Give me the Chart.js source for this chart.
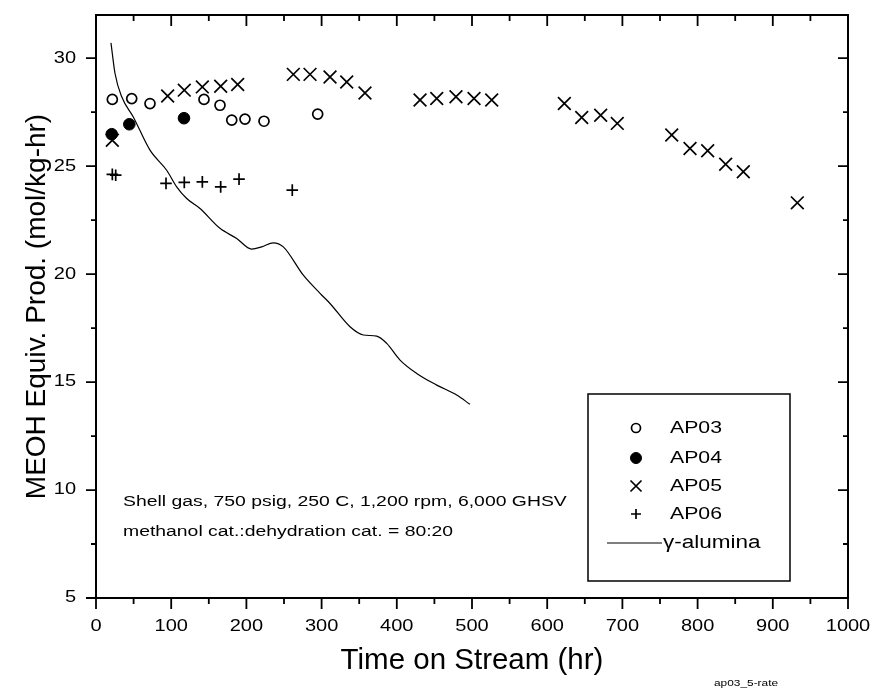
<!DOCTYPE html>
<html><head><meta charset="utf-8">
<script src="https://cdn.jsdelivr.net/npm/chart.js@4/dist/chart.umd.min.js"></script>
<style>html,body{margin:0;padding:0;background:#fff}canvas{display:block}</style>
</head><body>
<canvas id="c" width="875" height="689"></canvas>
<script>
// ---- data ----
const ap03X = [21.7, 47.5, 71.8, 143.6, 164.9, 180.5, 198.1, 223.4, 294.8];
const ap03Y = [28.09, 28.13, 27.90, 28.09, 27.82, 27.13, 27.18, 27.08, 27.41];
const ap04X = [20.9, 44.3, 117.0];
const ap04Y = [26.48, 26.94, 27.22];
const ap05X = [21.7, 95.3, 117.4, 141.4, 165.8, 188.4, 262.4, 284.6, 311.2, 333.4, 357.7, 430.9, 453.1, 478.7, 502.7, 526.2, 622.8, 645.9, 671.1, 693.2, 765.6, 789.9, 813.4, 837.3, 860.8, 932.6];
const ap05Y = [26.20, 28.25, 28.52, 28.67, 28.70, 28.78, 29.25, 29.25, 29.13, 28.90, 28.39, 28.06, 28.13, 28.21, 28.13, 28.06, 27.90, 27.25, 27.36, 26.98, 26.44, 25.82, 25.71, 25.09, 24.74, 23.30];
const ap06X = [21.7, 26.2, 93.1, 117.4, 141.4, 165.8, 190.2, 261.0];
const ap06Y = [24.62, 24.58, 24.20, 24.25, 24.27, 24.04, 24.40, 23.89];
const gammaX = [19.9, 25.3, 34.2, 49.6, 71.8, 94.0, 107.3, 120.6, 138.3, 164.9, 187.1, 207.0, 220.3, 235.8, 249.1, 275.7, 297.9, 311.2, 337.8, 355.5, 373.3, 386.6, 404.3, 426.5, 453.1, 479.7, 497.3];
const gammaY = [30.71, 29.29, 28.21, 27.28, 25.74, 24.81, 24.04, 23.50, 23.04, 22.12, 21.65, 21.16, 21.26, 21.45, 21.26, 19.95, 19.11, 18.64, 17.56, 17.18, 17.13, 16.79, 16.02, 15.40, 14.86, 14.40, 13.97];

const xMajorTicks = [0, 100, 200, 300, 400, 500, 600, 700, 800, 900, 1000];
const xMinorTicks = [50, 150, 250, 350, 450, 550, 650, 750, 850, 950];
const yMajorTicks = [5, 10, 15, 20, 25, 30];
const yMinorTicks = [7.5, 12.5, 17.5, 22.5, 27.5];
const seriesNames = ['AP03', 'AP04', 'AP05', 'AP06', 'γ-alumina'];
const noteLines = ['Shell gas, 750 psig, 250 C, 1,200 rpm, 6,000 GHSV', 'methanol cat.:dehydration cat. = 80:20'];
const xTitle = 'Time on Stream (hr)';
const yTitle = 'MEOH Equiv. Prod. (mol/kg-hr)';
const fileTag = 'ap03_5-rate';

const pts = (xs, ys) => xs.map((x, i) => ({x: x, y: ys[i]}));

// ---- small text is drawn horizontally widened, like the reference ----
const canvas = document.getElementById('c');
const ctx = canvas.getContext('2d');
const SX = 1.25;
const protoFill = CanvasRenderingContext2D.prototype.fillText;
ctx.fillText = function (text, x, y, maxWidth) {
  const mm = /([\d.]+)px/.exec(this.font);
  const size = mm ? parseFloat(mm[1]) : 12;
  const m = this.getTransform();
  const wide = size < 20 && Math.abs(m.b) < 1e-6;
  if (!wide) {
    if (maxWidth === undefined) return protoFill.call(this, text, x, y);
    return protoFill.call(this, text, x, y, maxWidth);
  }
  const p = m.transformPoint(new DOMPoint(x, y));
  const t = new DOMMatrix().translate(p.x, p.y).scale(SX, 1).translate(-p.x, -p.y).multiply(m);
  this.save();
  this.setTransform(t);
  if (maxWidth === undefined) protoFill.call(this, text, x, y);
  else protoFill.call(this, text, x, y, maxWidth);
  this.restore();
};

const FONT = "'Liberation Sans', Arial, sans-serif";
Chart.defaults.font.family = FONT;
Chart.defaults.color = '#000';

const markerStyles = [
  {pointStyle: 'circle', radius: 5, borderWidth: 1.7, fill: false},
  {pointStyle: 'circle', radius: 5.8, borderWidth: 1, fill: true},
  {pointStyle: 'crossRot', radius: 9, borderWidth: 1.7, fill: false},
  {pointStyle: 'cross', radius: 5.8, borderWidth: 1.7, fill: false}
];

function scatterSet(label, data, st) {
  return {
    label: label, data: data, showLine: false,
    pointStyle: st.pointStyle, pointRadius: st.radius, pointHoverRadius: st.radius,
    pointBorderWidth: st.borderWidth, borderColor: '#000',
    pointBorderColor: '#000', pointBackgroundColor: st.fill ? '#000' : 'rgba(0,0,0,0)',
    backgroundColor: st.fill ? '#000' : 'rgba(0,0,0,0)'
  };
}

function zeroPad(s) { s.paddingTop = 0; s.paddingBottom = 0; s.paddingLeft = 0; s.paddingRight = 0; }

const decor = {
  id: 'decor',
  afterDraw(chart) {
    const c = chart.ctx, a = chart.chartArea, xs = chart.scales.x, ys = chart.scales.y;
    c.save();
    c.strokeStyle = '#000';
    c.lineWidth = 2;
    c.strokeRect(a.left, a.top, a.right - a.left, a.bottom - a.top);
    c.lineWidth = 1.8;
    c.beginPath();
    const xt = (v, len) => { const px = xs.getPixelForValue(v);
      c.moveTo(px, a.bottom); c.lineTo(px, a.bottom + len);
      c.moveTo(px, a.top); c.lineTo(px, a.top + len); };
    const yt = (v, len) => { const py = ys.getPixelForValue(v);
      c.moveTo(a.left, py); c.lineTo(a.left - len, py);
      c.moveTo(a.right, py); c.lineTo(a.right - len, py); };
    xMajorTicks.forEach(v => xt(v, 11));
    xMinorTicks.forEach(v => xt(v, 6));
    yMajorTicks.forEach(v => yt(v, 10));
    yMinorTicks.forEach(v => yt(v, 5));
    c.stroke();

    // legend
    const bx = 588, by = 394, bw = 202, bh = 187;
    c.lineWidth = 1.5;
    c.strokeRect(bx, by, bw, bh);
    const rows = [428, 458, 486, 514, 543];
    const mx = 636, tx = 670;
    c.font = '17px ' + FONT;
    c.textBaseline = 'middle';
    c.textAlign = 'left';
    c.fillStyle = '#000';
    const legendSizes = [4.5, 5.5, 7.8, 5];
    for (let i = 0; i < 4; i++) {
      const st = markerStyles[i];
      c.save();
      c.strokeStyle = '#000';
      c.fillStyle = st.fill ? '#000' : 'rgba(0,0,0,0)';
      c.lineWidth = st.borderWidth;
      Chart.helpers.drawPoint(c, {pointStyle: st.pointStyle, radius: legendSizes[i], rotation: 0, borderWidth: st.borderWidth}, mx, rows[i]);
      c.restore();
      c.fillText(seriesNames[i], tx, rows[i]);
    }
    c.lineWidth = 1.2;
    c.beginPath();
    c.moveTo(607, rows[4]); c.lineTo(662, rows[4]);
    c.stroke();
    c.font = '18px ' + FONT;
    c.fillText(seriesNames[4], 663, rows[4]);

    // notes
    c.font = '15.5px ' + FONT;
    c.fillText(noteLines[0], 123, 502);
    c.fillText(noteLines[1], 123, 532);

    // file tag
    c.font = '9.5px ' + FONT;
    c.fillText(fileTag, 714, 683);
    c.restore();
  }
};

new Chart(ctx, {
  type: 'scatter',
  data: {
    datasets: [
      scatterSet(seriesNames[0], pts(ap03X, ap03Y), markerStyles[0]),
      scatterSet(seriesNames[1], pts(ap04X, ap04Y), markerStyles[1]),
      scatterSet(seriesNames[2], pts(ap05X, ap05Y), markerStyles[2]),
      scatterSet(seriesNames[3], pts(ap06X, ap06Y), markerStyles[3]),
      {
        label: seriesNames[4], data: pts(gammaX, gammaY), showLine: true,
        borderColor: '#000', borderWidth: 1.2, pointRadius: 0, pointHoverRadius: 0,
        cubicInterpolationMode: 'monotone', fill: false
      }
    ]
  },
  options: {
    responsive: false,
    animation: false,
    devicePixelRatio: 1,
    layout: {padding: {top: 15, right: 27, left: 0, bottom: 0}},
    plugins: {legend: {display: false}, tooltip: {enabled: false}},
    scales: {
      x: {
        type: 'linear', min: 0, max: 1000,
        afterFit(s) { s.height = 91; zeroPad(s); },
        afterBuildTicks(s) { s.ticks = xMajorTicks.map(v => ({value: v})); },
        grid: {display: false, drawTicks: false},
        border: {display: false},
        ticks: {autoSkip: false, maxRotation: 0, padding: 19, font: {size: 16}, color: '#000',
                callback: v => String(v)},
        title: {display: true, text: xTitle, font: {size: 29.5}, color: '#000', padding: {top: 0, bottom: 10}}
      },
      y: {
        type: 'linear', min: 5, max: 32,
        afterFit(s) { s.width = 96; zeroPad(s); },
        afterBuildTicks(s) { s.ticks = yMajorTicks.map(v => ({value: v})); },
        grid: {display: false, drawTicks: false},
        border: {display: false},
        ticks: {padding: 20, font: {size: 16}, color: '#000', callback: v => String(v)},
        title: {display: true, text: yTitle, font: {size: 28}, color: '#000', padding: {top: 20, bottom: 0}}
      }
    }
  },
  plugins: [decor]
});
</script>
</body></html>
